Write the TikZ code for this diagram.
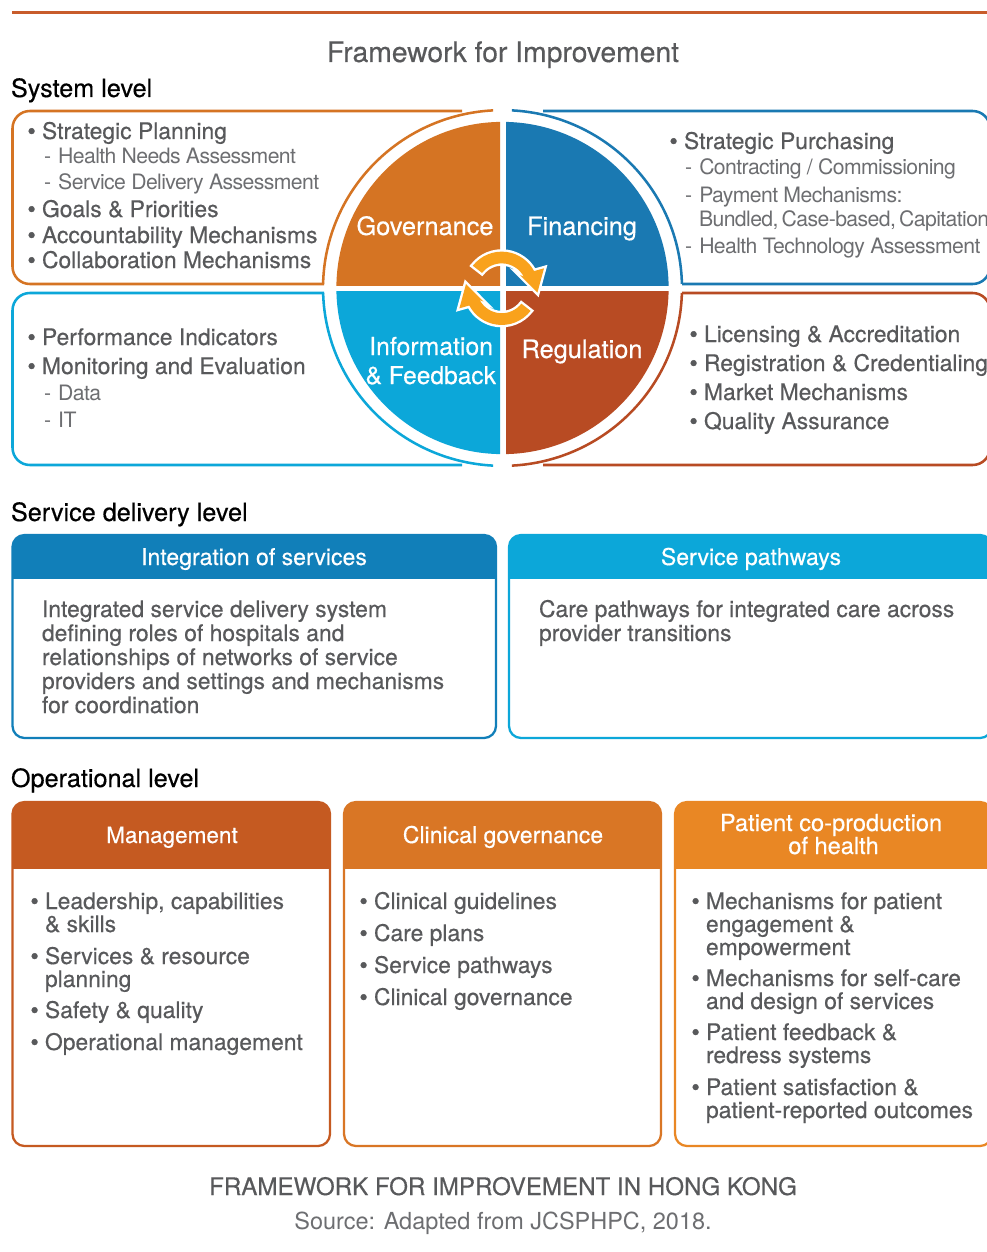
\documentclass[tikz,border=0pt]{standalone}
\usepackage{fontspec}
\setmainfont{TeX Gyre Heros}
\newfontfamily\medf[FakeBold=0.4]{TeX Gyre Heros}
\newfontfamily\bulf[FakeBold=2.2]{TeX Gyre Heros}
\newfontfamily\subf[LetterSpace=-2.8]{TeX Gyre Heros}
\definecolor{gov}{HTML}{D57423}
\definecolor{fin}{HTML}{1A79B2}
\definecolor{inf}{HTML}{0CA7D9}
\definecolor{reg}{HTML}{B84B23}
\definecolor{swirl}{HTML}{F9A21C}
\definecolor{txtgray}{HTML}{58595B}
\definecolor{subgray}{HTML}{6D6E71}
\definecolor{intg}{HTML}{117FB9}
\definecolor{mgmt}{HTML}{C55A21}
\definecolor{clin}{HTML}{D97625}
\definecolor{pat}{HTML}{E98724}
\definecolor{rule}{HTML}{C85C2B}
\newcommand\fsz[1]{\fontsize{#1}{#1}\selectfont}
\newcommand\bul{\leavevmode\llap{{\bulf\textbullet}\hspace{4.8pt}}}
\tikzset{
  every node/.style={inner sep=0pt,outer sep=0pt},
  lvl/.style={anchor=base west,font=\fsz{18.9}\medf,text=black},
  itm/.style={anchor=base west,font=\fsz{17.15}\medf,text=txtgray},
  sub/.style={anchor=base west,font=\fsz{15.9}\subf,text=subgray},
  quad/.style={anchor=base,font=\fsz{19}\medf,text=white},
  head/.style={anchor=base,font=\fsz{17.3}\medf,text=white},
  frame/.style={line width=1.9pt},
  panelline/.style={line width=1.7pt},
  ringarc/.style={x radius=134.6pt,y radius=133.4pt},
}
\newcommand\panel[6]{%
  \fill[white,rounded corners=9pt] (#1,#2) rectangle (#3,#5);
  \begin{scope}
    \clip[rounded corners=9pt] (#1,#2) rectangle (#3,#5);
    \fill[#6] (#1,#2) rectangle (#3,#4);
  \end{scope}
  \draw[#6,panelline,rounded corners=9pt] (#1,#2) rectangle (#3,#5);
}
\begin{document}
\begin{tikzpicture}[x=0.75pt,y=-0.75pt]
\useasboundingbox (0,0) rectangle (987,1252);
\fill[white] (0,0) rectangle (987,1252);
\draw[rule,line width=1.9pt] (12,12.5) -- (987,12.5);

\node[anchor=base,font=\fsz{21.2}\medf,text=txtgray] (title) at (503,62) {Framework for Improvement};
\node[lvl] (syslvl) at (11,97) {System level};

% frames
\coordinate (c) at (502.5,288);
\draw[gov,frame,rounded corners=13pt] (462,111) -- (12.5,111) -- (12.5,284) -- (324,284);
\draw[fin,frame,rounded corners=13pt] (543,111) -- (990,111) -- (990,284) -- (682,284);
\draw[inf,frame,rounded corners=13pt] (324,293) -- (12.5,293) -- (12.5,465) -- (462,465);
\draw[reg,frame,rounded corners=13pt] (682,293) -- (990,293) -- (990,465) -- (543,465);
\draw[gov,frame] (c) ++(178.7:134.6pt and 133.4pt) arc[start angle=178.7,end angle=93,ringarc];
\draw[fin,frame] (c) ++(1.3:134.6pt and 133.4pt) arc[start angle=1.3,end angle=87,ringarc];
\draw[inf,frame] (c) ++(181.6:134.6pt and 133.4pt) arc[start angle=181.6,end angle=267,ringarc];
\draw[reg,frame] (c) ++(-1.6:134.6pt and 133.4pt) arc[start angle=-1.6,end angle=-87,ringarc];

% quadrants
\begin{scope}\clip (300,100) rectangle (500,285);\fill[gov] (c) circle[radius=124.6pt];\end{scope}
\begin{scope}\clip (506,100) rectangle (700,285);\fill[fin] (c) circle[radius=124.6pt];\end{scope}
\begin{scope}\clip (300,291) rectangle (500,480);\fill[inf] (c) circle[radius=124.6pt];\end{scope}
\begin{scope}\clip (506,291) rectangle (700,480);\fill[reg] (c) circle[radius=124.6pt];\end{scope}

% swirl arrows
\foreach \rr in {0,180}{
  \begin{scope}[shift={(501.7,288.3)},rotate=\rr]
    \draw[white,line width=3.6pt,line join=miter,fill=white]
      (142:27.5pt) arc[start angle=142,end angle=28,radius=27.5pt]
      -- (42.3,-20) -- (35.7,4.3) -- (18.3,-13.3)
      -- (28:18.7pt) arc[start angle=28,end angle=142,radius=18.7pt] -- cycle;
  \end{scope}
}
\foreach \rr in {0,180}{
  \begin{scope}[shift={(501.7,288.3)},rotate=\rr]
    \fill[swirl]
      (142:27.5pt) arc[start angle=142,end angle=28,radius=27.5pt]
      -- (42.3,-20) -- (35.7,4.3) -- (18.3,-13.3)
      -- (28:18.7pt) arc[start angle=28,end angle=142,radius=18.7pt] -- cycle;
  \end{scope}
}

\node[quad] (qgov) at (425,235) {Governance};
\node[quad] (qfin) at (582,235) {Financing};
\node[quad,font=\fsz{18.6}\medf,anchor=base east] (qinf1) at (493,355) {Information};
\node[quad,font=\fsz{18.4}\medf,anchor=base east] (qinf2) at (496,384) {\&\ Feedback};
\node[quad] (qreg) at (582,358) {Regulation};

% top-left list
\node[itm] (tl1) at (42,139) {\bul Strategic Planning};
\node[sub] (tl2) at (44,164) {-\hspace{5.4pt}Health Needs Assessment};
\node[sub] (tl3) at (44,190) {-\hspace{5.4pt}Service Delivery Assessment};
\node[itm] (tl4) at (42,217) {\bul Goals \&\ Priorities};
\node[itm] (tl5) at (42,243) {\bul Accountability Mechanisms};
\node[itm] (tl6) at (42,268) {\bul Collaboration Mechanisms};

% top-right list
\node[itm] (tr1) at (684,149) {\bul Strategic Purchasing};
\node[sub] (tr2) at (685,175) {-\hspace{5.4pt}Contracting / Commissioning};
\node[sub] (tr3) at (685,202) {-\hspace{5.4pt}Payment Mechanisms:};
\node[sub] (tr4) at (699,226) {\spaceskip=2.4pt Bundled, Case-based, Capitation};
\node[sub] (tr5) at (685,253) {-\hspace{5.4pt}Health Technology Assessment};

% bottom-left list
\node[itm] (bl1) at (42,345) {\bul Performance Indicators};
\node[itm] (bl2) at (42,374) {\bul Monitoring and Evaluation};
\node[sub] (bl3) at (44,400) {-\hspace{5.4pt}Data};
\node[sub] (bl4) at (44,427) {-\hspace{5.4pt}IT};

% bottom-right list
\node[itm] (br1) at (704,342) {\bul Licensing \&\ Accreditation};
\node[itm] (br2) at (704,371) {\bul Registration \&\ Credentialing};
\node[itm] (br3) at (704,400) {\bul Market Mechanisms};
\node[itm] (br4) at (704,429) {\bul Quality Assurance};

% service level
\node[lvl] (svclvl) at (11,521) {Service delivery level};
\panel{12.5}{535}{496}{579}{738}{intg}
\panel{509}{535}{992}{579}{738}{inf}
\node[head] (hint) at (254,565) {Integration of services};
\node[head] (hsvc) at (751,565) {Service pathways};
\node[itm] (i1) at (42,617) {Integrated service delivery system};
\node[itm] (i2) at (42,641) {defining roles of hospitals and};
\node[itm] (i3) at (42,665) {relationships of networks of service};
\node[itm] (i4) at (42,689) {providers and settings and mechanisms};
\node[itm] (i5) at (42,713) {for coordination};
\node[itm] (s1) at (539,617) {Care pathways for integrated care across};
\node[itm] (s2) at (539,641) {provider transitions};

% operational level
\node[lvl] (oplvl) at (11,787) {Operational level};
\panel{12.5}{802}{330}{869}{1146}{mgmt}
\panel{344}{802}{661}{869}{1146}{clin}
\panel{675}{802}{992}{869}{1146}{pat}
\node[head,font=\fsz{16.9}\medf] (hm) at (172,843) {Management};
\node[head] (hc) at (503,843) {Clinical governance};
\node[head,font=\fsz{17.7}\medf] (hp1) at (831,831) {Patient co-production};
\node[head,font=\fsz{17.7}\medf] (hp2) at (833.5,854) {of health};

\node[itm] (m1) at (45,909) {\bul Leadership, capabilities};
\node[itm] (m2) at (45,932) {\&\ skills};
\node[itm] (m3) at (45,964) {\bul Services \&\ resource};
\node[itm] (m4) at (45,987) {planning};
\node[itm] (m5) at (45,1018) {\bul Safety \&\ quality};
\node[itm] (m6) at (45,1050) {\bul Operational management};

\node[itm] (c1) at (374,909) {\bul Clinical guidelines};
\node[itm] (c2) at (374,941) {\bul Care plans};
\node[itm] (c3) at (374,973) {\bul Service pathways};
\node[itm] (c4) at (374,1005) {\bul Clinical governance};

\node[itm] (p1) at (706,909) {\bul Mechanisms for patient};
\node[itm] (p2) at (706,932) {engagement \&};
\node[itm] (p3) at (706,955) {empowerment};
\node[itm] (p4) at (706,986) {\bul Mechanisms for self-care};
\node[itm] (p5) at (706,1009) {and design of services};
\node[itm] (p6) at (706,1040) {\bul Patient feedback \&};
\node[itm] (p7) at (706,1063) {redress systems};
\node[itm] (p8) at (706,1095) {\bul Patient satisfaction \&};
\node[itm] (p9) at (706,1118) {patient-reported outcomes};

\node[anchor=base,font=\fsz{18.1}\medf,text=txtgray] (cap) at (503,1195) {FRAMEWORK FOR IMPROVEMENT IN HONG KONG};
\node[anchor=base,font=\fsz{17.6},text=subgray] (src) at (503,1229) {Source: Adapted from JCSPHPC, 2018.};
\end{tikzpicture}
\end{document}
